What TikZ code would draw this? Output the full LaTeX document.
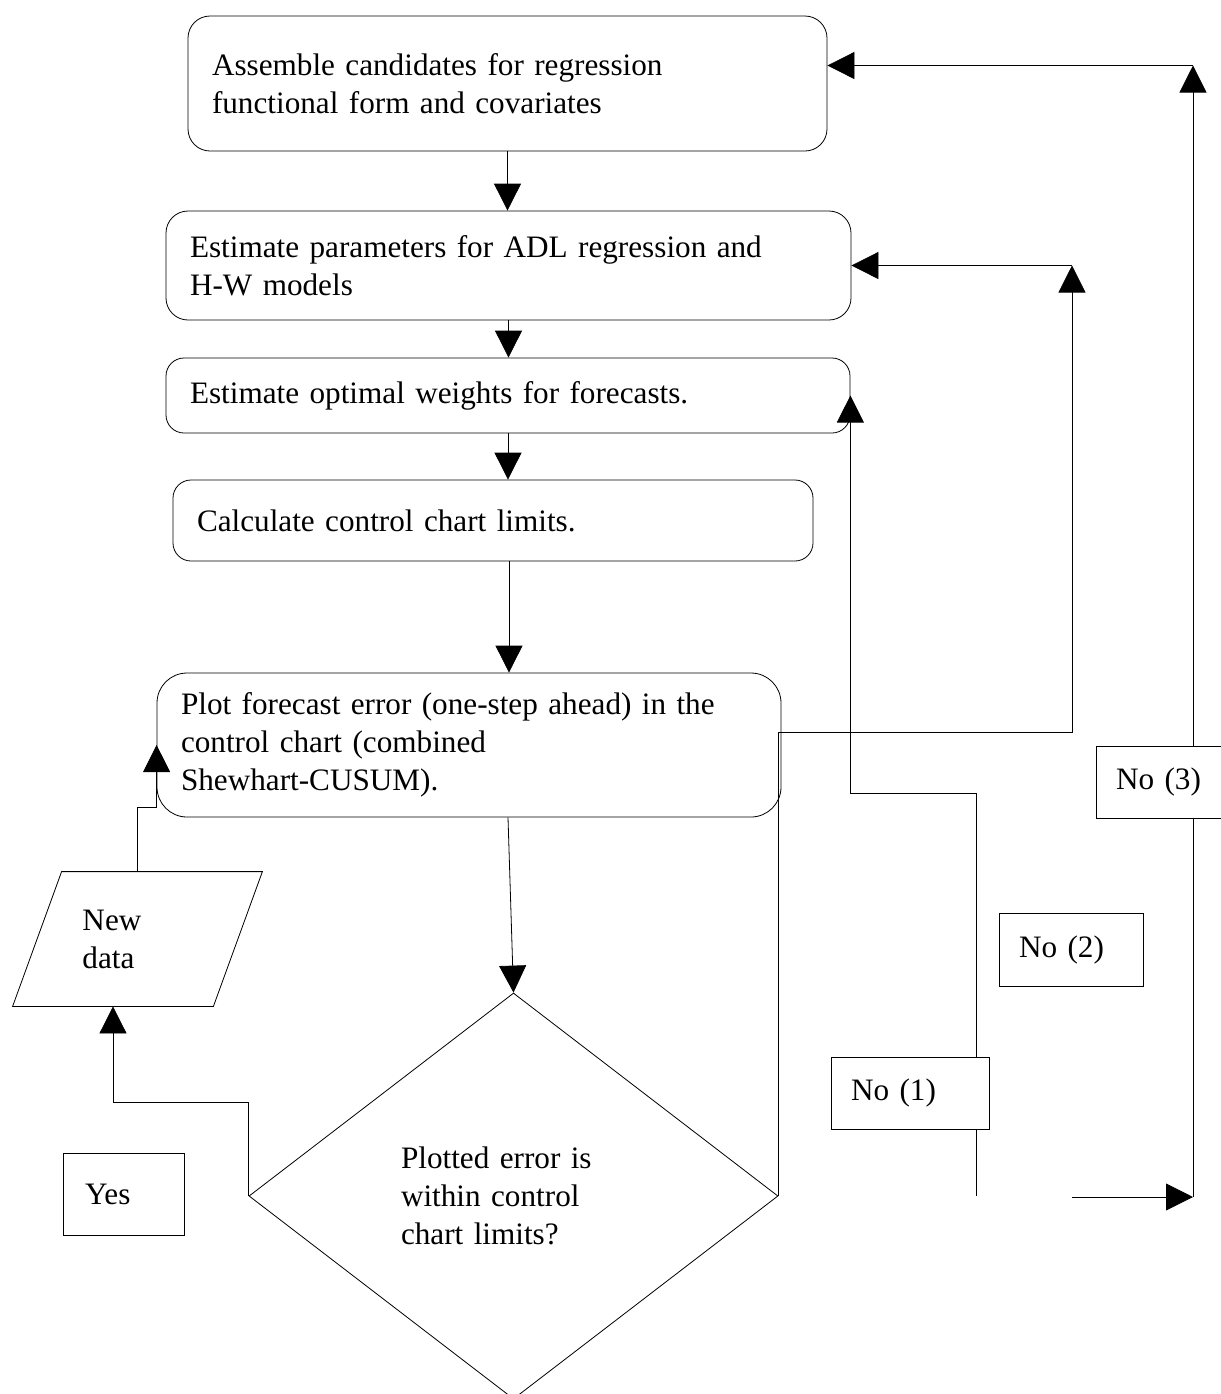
\documentclass[tikz,border=0pt]{standalone}
\usepackage{fontspec}
\setmainfont{Liberation Serif}
\usetikzlibrary{shapes.geometric,arrows.meta,calc,positioning}
\tikzset{
	-{Triangle[length=13.5pt,width=13.5pt]}, line width=0.95pt,
	proc/.style ={rectangle, rounded corners=11pt, draw, fill=white, align=left, inner xsep=12pt, inner ysep=0pt},
	decision/.style ={diamond, draw, fill=white, align=left, inner sep=0pt, minimum width=264.5pt, minimum height=203pt},
	io/.style ={rectangle, align=left, inner sep=0pt, minimum width=100pt, minimum height=67pt},
	tag/.style ={rectangle, draw, fill=white, align=left, inner xsep=10pt, inner ysep=0pt}
}

\begin{document}
\begin{tikzpicture}[x=0.5pt, y=-0.5pt, font=\fontsize{15.6}{19}\selectfont]
    \useasboundingbox (0,0) rectangle (1221,1394);

    \node[proc, minimum width=319.5pt, minimum height=67.5pt, text width=295.5pt] (assemble) at (507.5,83.5) {Assemble candidates for regression\\functional form and covariates};
    \node[proc, minimum width=342.5pt, minimum height=54.5pt, text width=318.5pt] (params) at (508.5,265.5) {Estimate parameters for ADL regression and\\H-W models};
    \node[proc, rounded corners=9pt, minimum width=342pt, minimum height=37.5pt, text width=318pt] (weights) at (508,395.5) {Estimate optimal weights for forecasts.};
    \node[proc, rounded corners=9pt, minimum width=320pt, minimum height=40.5pt, text width=296pt] (limits) at (493,520.5) {Calculate control chart limits.};
    \node[proc, rounded corners=15pt, minimum width=312pt, minimum height=72pt, text width=288pt] (plot) at (469,745) {Plot forecast error (one-step ahead) in the\\control chart (combined\\Shewhart-CUSUM).};

    \node[decision, text width=112.5pt] (check) at (513.5,1196) {Plotted error is\\within control\\chart limits?};
    \node[io, text width=55pt] (newdata) at (137.5,939) {New\\data};
    \draw[-] ([xshift=-12.25pt]newdata.south west) -- ([xshift=-12.25pt]newdata.south east)
        -- ([xshift=12.25pt]newdata.north east) -- ([xshift=12.25pt]newdata.north west) -- cycle;

    \coordinate (n1foot) at (976,1196);
    \coordinate (n2rail) at (1072,0);
    \coordinate (n3foot) at (1072,1197);
    \coordinate (n3rail) at (1193,0);

    % main flow
    \draw (assemble.south) -- (assemble.south |- params.north);
    \draw (params.south) -- (params.south |- weights.north);
    \draw (weights.south) -- (weights.south |- limits.north);
    \draw ([xshift=8pt]limits.south) -- ([xshift=8pt]limits.south |- plot.north);
    \draw ([xshift=19.5pt]plot.south) -- (check.north);

    % yes: new data
    \draw (check.west) -- ++(0,-94) -| ([xshift=-12.25pt]newdata.south);
    \draw (newdata.north) -- ++(0,-64) -| (plot.west);

    % no (1), (2), (3)
    \draw (n1foot) -- ++(0,-403) -| (weights.east);
    \draw (check.east) |- ([yshift=6.5pt]plot.east -| n2rail) -- (params.east -| n2rail);
    \draw (params.east -| n2rail) -- (params.east);
    \draw (n3foot) -- (n3foot -| n3rail);
    \draw (n3foot -| n3rail) -- ([yshift=9pt]assemble.east -| n3rail);
    \draw ([yshift=9pt]assemble.east -| n3rail) -- ([yshift=9pt]assemble.east);

    \node[tag, inner xsep=11pt, minimum width=60.5pt, minimum height=41pt, text width=38.5pt] (yes) at (123.5,1194) {Yes};
    \node[tag, minimum width=79pt, minimum height=36pt, text width=59pt] (no1) at (910,1093) {No (1)};
    \node[tag, minimum width=72pt, minimum height=36.5pt, text width=52pt] (no2) at (1071,949.5) {No (2)};
    \node[tag, minimum width=75pt, minimum height=36pt, text width=55pt] (no3) at (1171,782) {No (3)};
\end{tikzpicture}
\end{document}
